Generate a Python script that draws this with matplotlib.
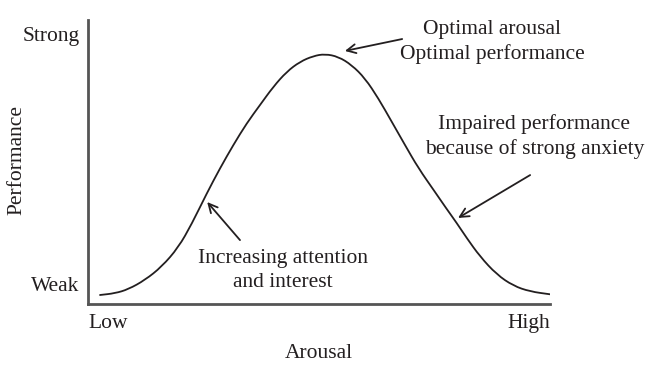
import matplotlib
matplotlib.use("Agg")
import matplotlib.pyplot as plt
from matplotlib.path import Path
from matplotlib.patches import PathPatch

# Curve (arousal 0-100, performance 0-100)
arousal = [2.60, 5.84, 8.72, 12.34, 15.95, 19.55, 22.45, 25.69, 28.57, 31.45,
           34.35, 37.23, 40.11, 43.01, 45.89, 48.77, 51.30, 54.18, 57.08, 59.96,
           62.84, 65.74, 68.61, 71.49, 75.11, 77.49, 79.81, 81.97, 84.85, 88.46,
           92.06, 95.67, 100.0]
performance = [3.17, 3.77, 5.18, 8.45, 13.13, 19.89, 28.17, 38.91, 47.78, 55.99,
               63.63, 70.07, 76.51, 81.80, 85.32, 87.32, 88.03, 87.08, 84.15, 79.47,
               72.43, 64.19, 55.99, 47.89, 39.44, 33.80, 28.52, 23.24, 16.73, 10.39,
               6.41, 4.40, 3.42]

x_tick_pos = [0, 100]
x_tick_labels = ["Low", "High"]
y_tick_pos = [7.0, 95.1]
y_tick_labels = ["Weak", "Strong"]

# annotations: (text, arrow tip, arrow tail, text centre)
annotations = [
    ("Optimal arousal\nOptimal performance", (55.6, 89.1), (68.0, 93.3), (87.5, 92.3)),
    ("Impaired performance\nbecause of strong anxiety", (80.1, 30.3), (95.7, 45.4), (96.6, 59.0)),
    ("Increasing attention\nand interest", (25.8, 35.9), (32.9, 22.5), (42.1, 11.8)),
]

plt.rcParams['font.family'] = ['Liberation Serif', 'DejaVu Serif']
ink = '#231f20'

fig = plt.figure(figsize=(6.47, 3.78), dpi=100)
W, H = 647, 378
ax = fig.add_axes([88 / W, (H - 304) / H, (550 - 88) / W, (304 - 20) / H])
ax.set_xlim(0, 100)
ax.set_ylim(0, 100)

# smooth rendering of the read points: quadratic Bezier segments using the
# points as control points and midpoints between them as anchors
pts = list(zip(arousal, performance))
verts = [pts[0], ((pts[0][0] + pts[1][0]) / 2, (pts[0][1] + pts[1][1]) / 2)]
codes = [Path.MOVETO, Path.LINETO]
for i in range(1, len(pts) - 1):
    mid = ((pts[i][0] + pts[i + 1][0]) / 2, (pts[i][1] + pts[i + 1][1]) / 2)
    verts += [pts[i], mid]
    codes += [Path.CURVE3, Path.CURVE3]
verts.append(pts[-1])
codes.append(Path.LINETO)
ax.add_patch(PathPatch(Path(verts, codes), facecolor='none', edgecolor=ink,
                       lw=1.3, capstyle='round', joinstyle='round'))

for s in ['top', 'right']:
    ax.spines[s].set_visible(False)
for s in ['left', 'bottom']:
    ax.spines[s].set_color('#555555')
    ax.spines[s].set_linewidth(2)

fs = 15.5
ax.set_xticks(x_tick_pos)
ax.set_xticklabels(x_tick_labels, fontsize=fs, color=ink)
ax.set_yticks(y_tick_pos)
ax.set_yticklabels(y_tick_labels, fontsize=fs, color=ink)
ax.tick_params(axis='both', length=0)
ax.tick_params(axis='x', pad=7)
ax.tick_params(axis='y', pad=6)
lbls = ax.get_xticklabels()
lbls[0].set_horizontalalignment('left')
lbls[1].set_horizontalalignment('right')

ax.set_xlabel("Arousal", fontsize=fs, color=ink)
ax.xaxis.set_label_coords(0.5, -(353 - 304) / 284, transform=ax.transAxes)
ax.xaxis.label.set_verticalalignment('center')
ax.set_ylabel("Performance", fontsize=fs, color=ink)
ax.yaxis.set_label_coords((17 - 88) / 462, (304 - 160) / 284, transform=ax.transAxes)
ax.yaxis.label.set_verticalalignment('center')

for txt, tip, tail, pos in annotations:
    ax.annotate("", xy=tip, xytext=tail,
                arrowprops=dict(arrowstyle='->', color=ink, lw=1.3,
                                mutation_scale=16, shrinkA=0, shrinkB=0),
                annotation_clip=False)
    ax.text(pos[0], pos[1], txt, ha='center', va='center', fontsize=fs,
            color=ink, linespacing=1.38, multialignment='center', clip_on=False)

fig.savefig("out.png", dpi=100)
